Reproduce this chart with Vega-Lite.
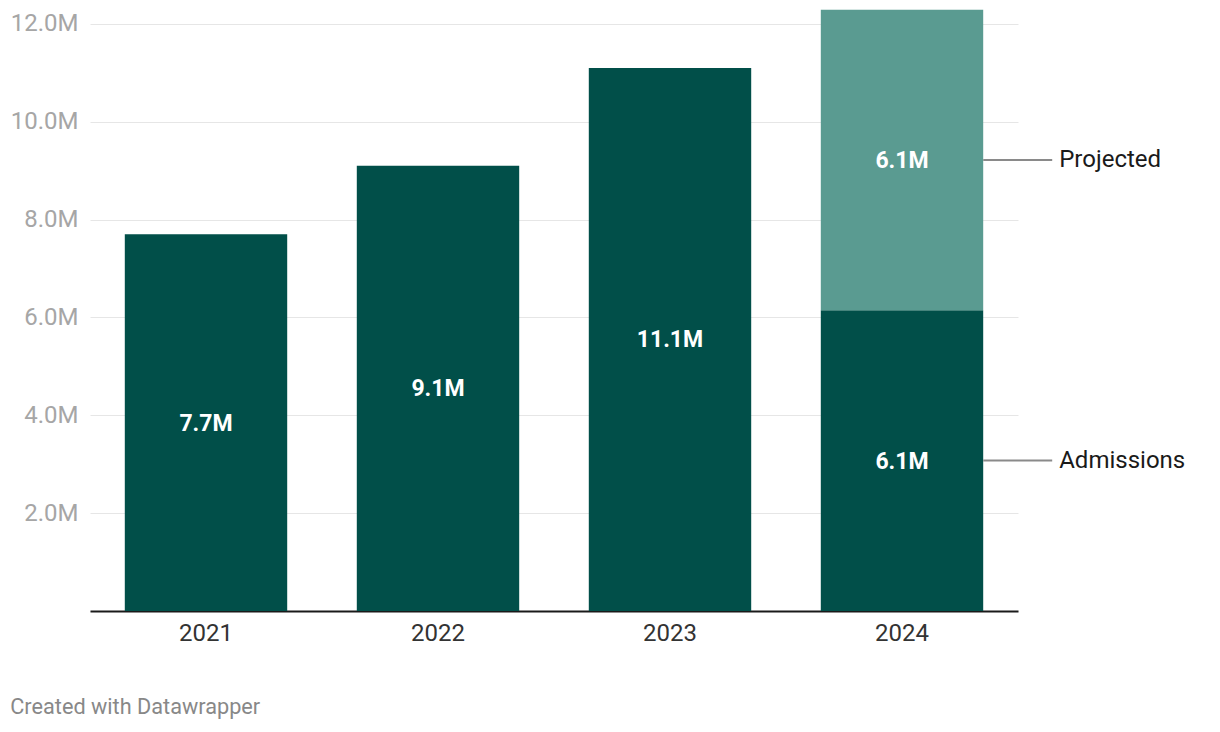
{
  "$schema": "https://vega.github.io/schema/vega-lite/v6.json",
  "width": 928,
  "height": 601,
  "autosize": "none",
  "padding": {"left": 90, "top": 10, "right": 202, "bottom": 121},
  "background": "white",
  "config": {
    "font": "Roboto",
    "view": {"stroke": null},
    "axisX": {"domainColor": "#1a1a1a", "domainWidth": 2, "ticks": false, "grid": false, "labelColor": "#333333", "labelFontSize": 24, "labelPadding": 10, "labelAngle": 0, "title": null},
    "axisY": {"domain": false, "ticks": false, "gridColor": "#e6e6e6", "gridWidth": 1, "labelColor": "#a6a6a6", "labelFontSize": 24, "labelPadding": 12, "title": null}
  },
  "title": {
    "text": "Created with Datawrapper",
    "orient": "bottom",
    "anchor": "start",
    "frame": "bounds",
    "fontSize": 21.7,
    "fontWeight": "normal",
    "color": "#888888",
    "offset": 52
  },
  "data": {
    "values": [
      {"year": "2021", "type": "Admissions", "value": 7.7, "label": "7.7M"},
      {"year": "2022", "type": "Admissions", "value": 9.1, "label": "9.1M"},
      {"year": "2023", "type": "Admissions", "value": 11.1, "label": "11.1M"},
      {"year": "2024", "type": "Admissions", "value": 6.15, "label": "6.1M"},
      {"year": "2024", "type": "Projected", "value": 6.14, "label": "6.1M"}
    ]
  },
  "encoding": {
    "x": {"field": "year", "type": "nominal", "scale": {"paddingInner": 0.3, "paddingOuter": 0.15}}
  },
  "layer": [
    {
      "mark": {"type": "bar"},
      "encoding": {
        "y": {
          "field": "value", "type": "quantitative", "stack": "zero",
          "scale": {"domain": [0, 12.285], "nice": false, "zero": true},
          "axis": {"tickCount": 6, "labelExpr": "datum.value == 0 ? '' : format(datum.value, '.1f') + 'M'"}
        },
        "color": {"field": "type", "type": "nominal", "scale": {"domain": ["Admissions", "Projected"], "range": ["#014f49", "#5a9b91"]}, "legend": null},
        "order": {"field": "type", "sort": "ascending"}
      }
    },
    {
      "mark": {"type": "text", "color": "white", "fontWeight": "bold", "fontSize": 23, "baseline": "middle", "dy": 1},
      "encoding": {
        "y": {"field": "value", "type": "quantitative", "stack": "zero", "bandPosition": 0.5},
        "detail": {"field": "type"},
        "order": {"field": "type", "sort": "ascending"},
        "text": {"field": "label"}
      }
    },
    {
      "transform": [{"filter": "datum.year == '2024'"}],
      "mark": {"type": "rule", "color": "#8a8a8a", "strokeWidth": 2, "x2Offset": 69},
      "encoding": {
        "x": {"field": "year", "type": "nominal", "bandPosition": 1},
        "x2": {"field": "year", "bandPosition": 1},
        "y": {"field": "value", "type": "quantitative", "stack": "zero", "bandPosition": 0.5},
        "detail": {"field": "type"},
        "order": {"field": "type", "sort": "ascending"}
      }
    },
    {
      "transform": [{"filter": "datum.year == '2024'"}],
      "mark": {"type": "text", "align": "left", "baseline": "middle", "dx": 76, "fontSize": 24, "color": "#1a1a1a"},
      "encoding": {
        "x": {"field": "year", "type": "nominal", "bandPosition": 1},
        "y": {"field": "value", "type": "quantitative", "stack": "zero", "bandPosition": 0.5},
        "detail": {"field": "type"},
        "order": {"field": "type", "sort": "ascending"},
        "text": {"field": "type"}
      }
    }
  ]
}
